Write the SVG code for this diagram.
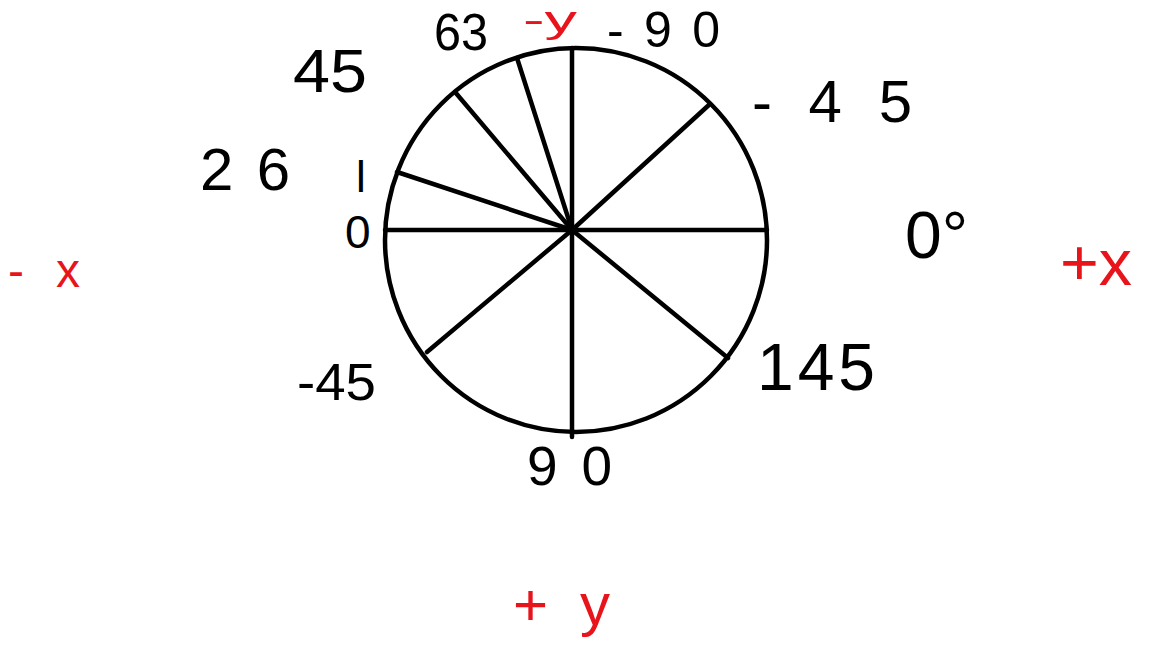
<svg xmlns="http://www.w3.org/2000/svg" width="1152" height="648" viewBox="0 0 1152 648">
<style>
.ln{stroke:#000;stroke-width:4.5;fill:none;stroke-linecap:round}
.t{font-family:"Liberation Sans",Arial,sans-serif;fill:#000}
.r{fill:#e8141c}
</style>
<rect width="1152" height="648" fill="#fff"/>
<g id="wheel">
<ellipse class="ln" cx="576" cy="240" rx="191" ry="192"/>
</g>
<g id="connectors">
<line class="ln" x1="572" y1="48" x2="572" y2="437"/>
<line class="ln" x1="385" y1="230" x2="767" y2="230"/>
<line class="ln" x1="572" y1="230" x2="710" y2="104"/>
<line class="ln" x1="572" y1="230" x2="728" y2="358"/>
<line class="ln" x1="572" y1="230" x2="427" y2="352"/>
<line class="ln" x1="572" y1="230" x2="455" y2="92"/>
<line class="ln" x1="572" y1="230" x2="517" y2="58"/>
<line class="ln" x1="572" y1="230" x2="397" y2="172"/>
</g>
<g id="labels">
<text class="t" x="293" y="92" font-size="62" textLength="74" lengthAdjust="spacingAndGlyphs">45</text>
<text class="t" x="434" y="50" font-size="52" textLength="54" lengthAdjust="spacingAndGlyphs">63</text>
<text class="t r" x="523" y="32" font-size="36" textLength="54" lengthAdjust="spacingAndGlyphs">-y</text>
<text class="t" x="607" y="47" font-size="50" textLength="113" lengthAdjust="spacing">-90</text>
<text class="t" x="752" y="122" font-size="60" textLength="160" lengthAdjust="spacing">-45</text>
<text class="t" x="200" y="190" font-size="60" textLength="90" lengthAdjust="spacing">26</text>
<text class="t" x="356" y="192" font-size="44">l</text>
<text class="t" x="345" y="248" font-size="46">0</text>
<text class="t" x="905" y="258" font-size="66">0°</text>
<text class="t r" x="1060" y="285" font-size="64" textLength="72" lengthAdjust="spacingAndGlyphs">+x</text>
<text class="t r" x="8" y="287" font-size="48" textLength="72" lengthAdjust="spacing">-x</text>
<text class="t" x="297" y="400" font-size="52" textLength="79" lengthAdjust="spacingAndGlyphs">-45</text>
<text class="t" x="757" y="390" font-size="66" textLength="118" lengthAdjust="spacing">145</text>
<text class="t" x="527" y="485" font-size="55" textLength="85" lengthAdjust="spacing">90</text>
<text class="t r" x="513" y="625" font-size="60" textLength="97" lengthAdjust="spacing">+y</text>
</g>
</svg>
